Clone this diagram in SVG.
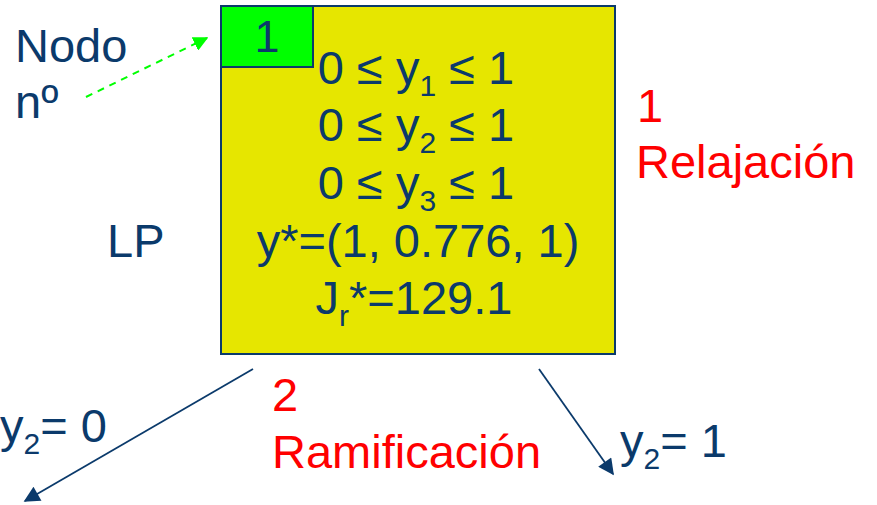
<svg xmlns="http://www.w3.org/2000/svg" width="877" height="505" viewBox="0 0 877 505">
<style>
text{font-family:"Liberation Sans",Arial,sans-serif;font-size:47px;}
.n{fill:#0B3A6B;}
.r{fill:#FF0000;}
.sub{font-size:30px;}
.c{text-anchor:middle;}
</style>
<defs>
<marker id="ah" viewBox="0 0 10 10" refX="9" refY="5" markerWidth="19" markerHeight="16" markerUnits="userSpaceOnUse" orient="auto">
<path d="M0,0 L10,5 L0,10 z" fill="#0B3A6B"/>
</marker>
<marker id="ag" viewBox="0 0 10 10" refX="9" refY="5" markerWidth="15" markerHeight="15" markerUnits="userSpaceOnUse" orient="auto">
<path d="M0,0 L10,5 L0,10 z" fill="#00FF00"/>
</marker>
</defs>
<g id="node1">
<rect x="221" y="6" width="394" height="348" fill="#E6E600" stroke="#0B3A6B" stroke-width="2"/>
<rect x="221" y="6" width="92" height="61" fill="#00FF00" stroke="#0B3A6B" stroke-width="2"/>
<text class="n c" x="267" y="52" style="font-size:45px">1</text>
<text class="n c" x="416" y="84">0 ≤ y<tspan class="sub" dy="12">1</tspan><tspan dy="-12"> ≤ 1</tspan></text>
<text class="n c" x="416" y="141">0 ≤ y<tspan class="sub" dy="12">2</tspan><tspan dy="-12"> ≤ 1</tspan></text>
<text class="n c" x="416" y="199">0 ≤ y<tspan class="sub" dy="12">3</tspan><tspan dy="-12"> ≤ 1</tspan></text>
<text class="n c" x="418" y="257">y*=(1, 0.776, 1)</text>
<text class="n c" x="414" y="314">J<tspan class="sub" dy="12">r</tspan><tspan dy="-12">*=129.1</tspan></text>
</g>
<g id="labels">
<text class="n" x="15" y="62">Nodo</text>
<text class="n" x="15" y="118">nº</text>
<text class="n" x="107" y="257">LP</text>
<text class="r" x="637" y="122">1</text>
<text class="r" x="636" y="178">Relajación</text>
<text class="r" x="272" y="411">2</text>
<text class="r" x="272" y="468">Ramificación</text>
<text class="n" x="0" y="442">y<tspan class="sub" dy="12">2</tspan><tspan dy="-12">= 0</tspan></text>
<text class="n" x="620" y="457">y<tspan class="sub" dy="12">2</tspan><tspan dy="-12">= 1</tspan></text>
</g>
<g id="connectors">
<line x1="86" y1="97" x2="207" y2="38" stroke="#00FF00" stroke-width="2" stroke-dasharray="7,6" marker-end="url(#ag)"/>
<line x1="253" y1="369" x2="25" y2="501" stroke="#0B3A6B" stroke-width="1.8" marker-end="url(#ah)"/>
<line x1="539" y1="369" x2="613" y2="474" stroke="#0B3A6B" stroke-width="1.8" marker-end="url(#ah)"/>
</g>
</svg>
